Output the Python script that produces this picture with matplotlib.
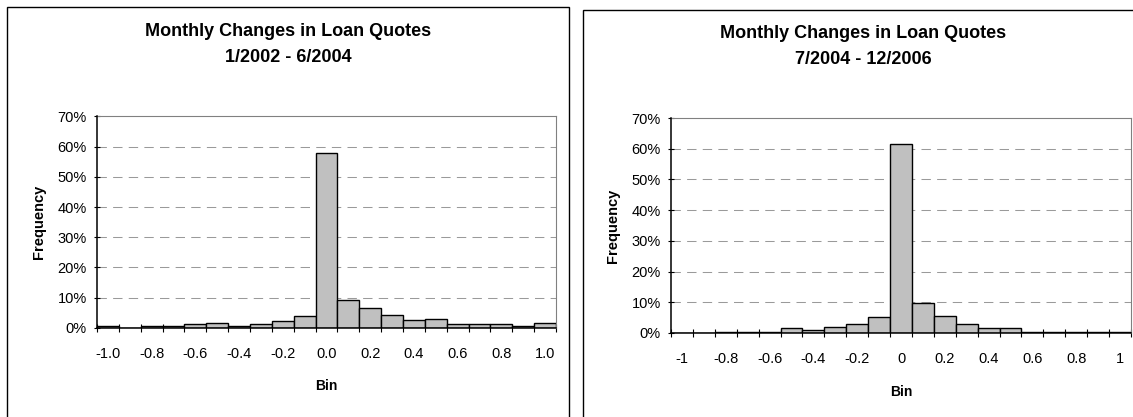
import matplotlib

matplotlib.use('Agg')
import matplotlib.pyplot as plt
from matplotlib.patches import Rectangle
from matplotlib.ticker import FixedLocator, FuncFormatter

plt.rcParams['font.family'] = ['Liberation Sans', 'DejaVu Sans']

# Categorias (bins) comunes a los dos histogramas
bins = [-1.0, -0.9, -0.8, -0.7, -0.6, -0.5, -0.4, -0.3, -0.2, -0.1, 0.0,
        0.1, 0.2, 0.3, 0.4, 0.5, 0.6, 0.7, 0.8, 0.9, 1.0]

# Frecuencias (%)
freq_2002_2004 = [0.5, 0.0, 0.5, 0.5, 1.1, 1.4, 0.5, 1.35, 2.3, 4.0, 58.0,
                  9.1, 6.6, 4.1, 2.4, 3.0, 1.1, 1.1, 1.1, 0.4, 1.6]
freq_2004_2006 = [0.0, 0.0, 0.4, 0.4, 0.4, 1.5, 1.1, 2.1, 3.0, 5.1, 61.6,
                  9.7, 5.5, 2.9, 1.5, 1.5, 0.4, 0.4, 0.4, 0.4, 0.4]

etiquetas_izq = ["-1.0", "-0.8", "-0.6", "-0.4", "-0.2", "0.0",
                 "0.2", "0.4", "0.6", "0.8", "1.0"]
etiquetas_der = ["-1", "-0.8", "-0.6", "-0.4", "-0.2", "0",
                 "0.2", "0.4", "0.6", "0.8", "1"]

titulo = "Monthly Changes in Loan Quotes"
periodo_izq = "1/2002 - 6/2004"
periodo_der = "7/2004 - 12/2006"

W, H = 1133, 417
fig = plt.figure(figsize=(W / 100, H / 100), dpi=100)


def px(x, y):
    # pixel (desde arriba-izquierda) -> coordenadas de figura
    return x / W, 1 - y / H


def dibujar_panel(caja, plot_px, valores, etiquetas, periodo, lbl_pos):
    # marco del panel
    x0, y0, x1 = caja
    fig.patches.append(Rectangle((x0 / W, -0.1), (x1 - x0) / W, 0.1 + 1 - y0 / H,
                                 transform=fig.transFigure, fill=False,
                                 edgecolor='black', linewidth=1.0))
    l, t, r, b = plot_px
    ax = fig.add_axes([l / W, 1 - b / H, (r - l) / W, (b - t) / H])

    pos = list(range(len(bins)))
    ax.bar(pos, valores, width=1.0, color='#C0C0C0', edgecolor='black',
           linewidth=1.0, zorder=3)

    ax.set_xlim(-0.5, len(bins) - 0.5)
    ax.set_ylim(0, 70)
    ax.set_yticks(range(0, 71, 10))
    ax.yaxis.set_major_formatter(FuncFormatter(lambda v, p: f"{int(v)}%"))
    for g in range(10, 70, 10):
        ax.axhline(g, color='#9A9A9A', linewidth=0.75, linestyle=(0, (9, 6)),
                   zorder=1)

    ax.xaxis.set_major_locator(FixedLocator(pos[::2]))
    ax.set_xticklabels(etiquetas)
    ax.xaxis.set_minor_locator(FixedLocator([p - 0.5 for p in pos] + [pos[-1] + 0.5]))
    ax.tick_params(axis='x', which='major', length=0, pad=14, labelsize=10.5)
    ax.tick_params(axis='x', which='minor', direction='inout', length=5.5,
                   width=0.8, color='black')
    ax.tick_params(axis='y', direction='inout', length=4.5, width=0.8,
                   pad=5, labelsize=10.5)

    for s in ['top', 'right']:
        ax.spines[s].set_color('#808080')
        ax.spines[s].set_linewidth(0.8)
    for s in ['left', 'bottom']:
        ax.spines[s].set_color('black')
        ax.spines[s].set_linewidth(1.1)
        ax.spines[s].set_zorder(4)

    cx = (x0 + x1) / 2 if x1 < W else 863
    fig.text(*px(cx, lbl_pos[0]), titulo, ha='center', va='center',
             fontsize=13, fontweight='bold')
    fig.text(*px(cx, lbl_pos[1]), periodo, ha='center', va='center',
             fontsize=13, fontweight='bold')
    fig.text(*px(lbl_pos[2], (t + b) / 2), "Frequency", rotation=90,
             ha='center', va='center', fontsize=10.5, fontweight='bold')
    fig.text(*px((l + r) / 2, lbl_pos[3]), "Bin", ha='center', va='center',
             fontsize=10, fontweight='bold')
    return ax


dibujar_panel((7, 7, 569), (97, 116.5, 556, 327.7), freq_2002_2004,
              etiquetas_izq, periodo_izq, (32, 58, 39, 386))
dibujar_panel((583, 10, 1200), (671, 118, 1131, 333), freq_2004_2006,
              etiquetas_der, periodo_der, (34, 60, 613, 392))

fig.savefig('out.png', dpi=100)
